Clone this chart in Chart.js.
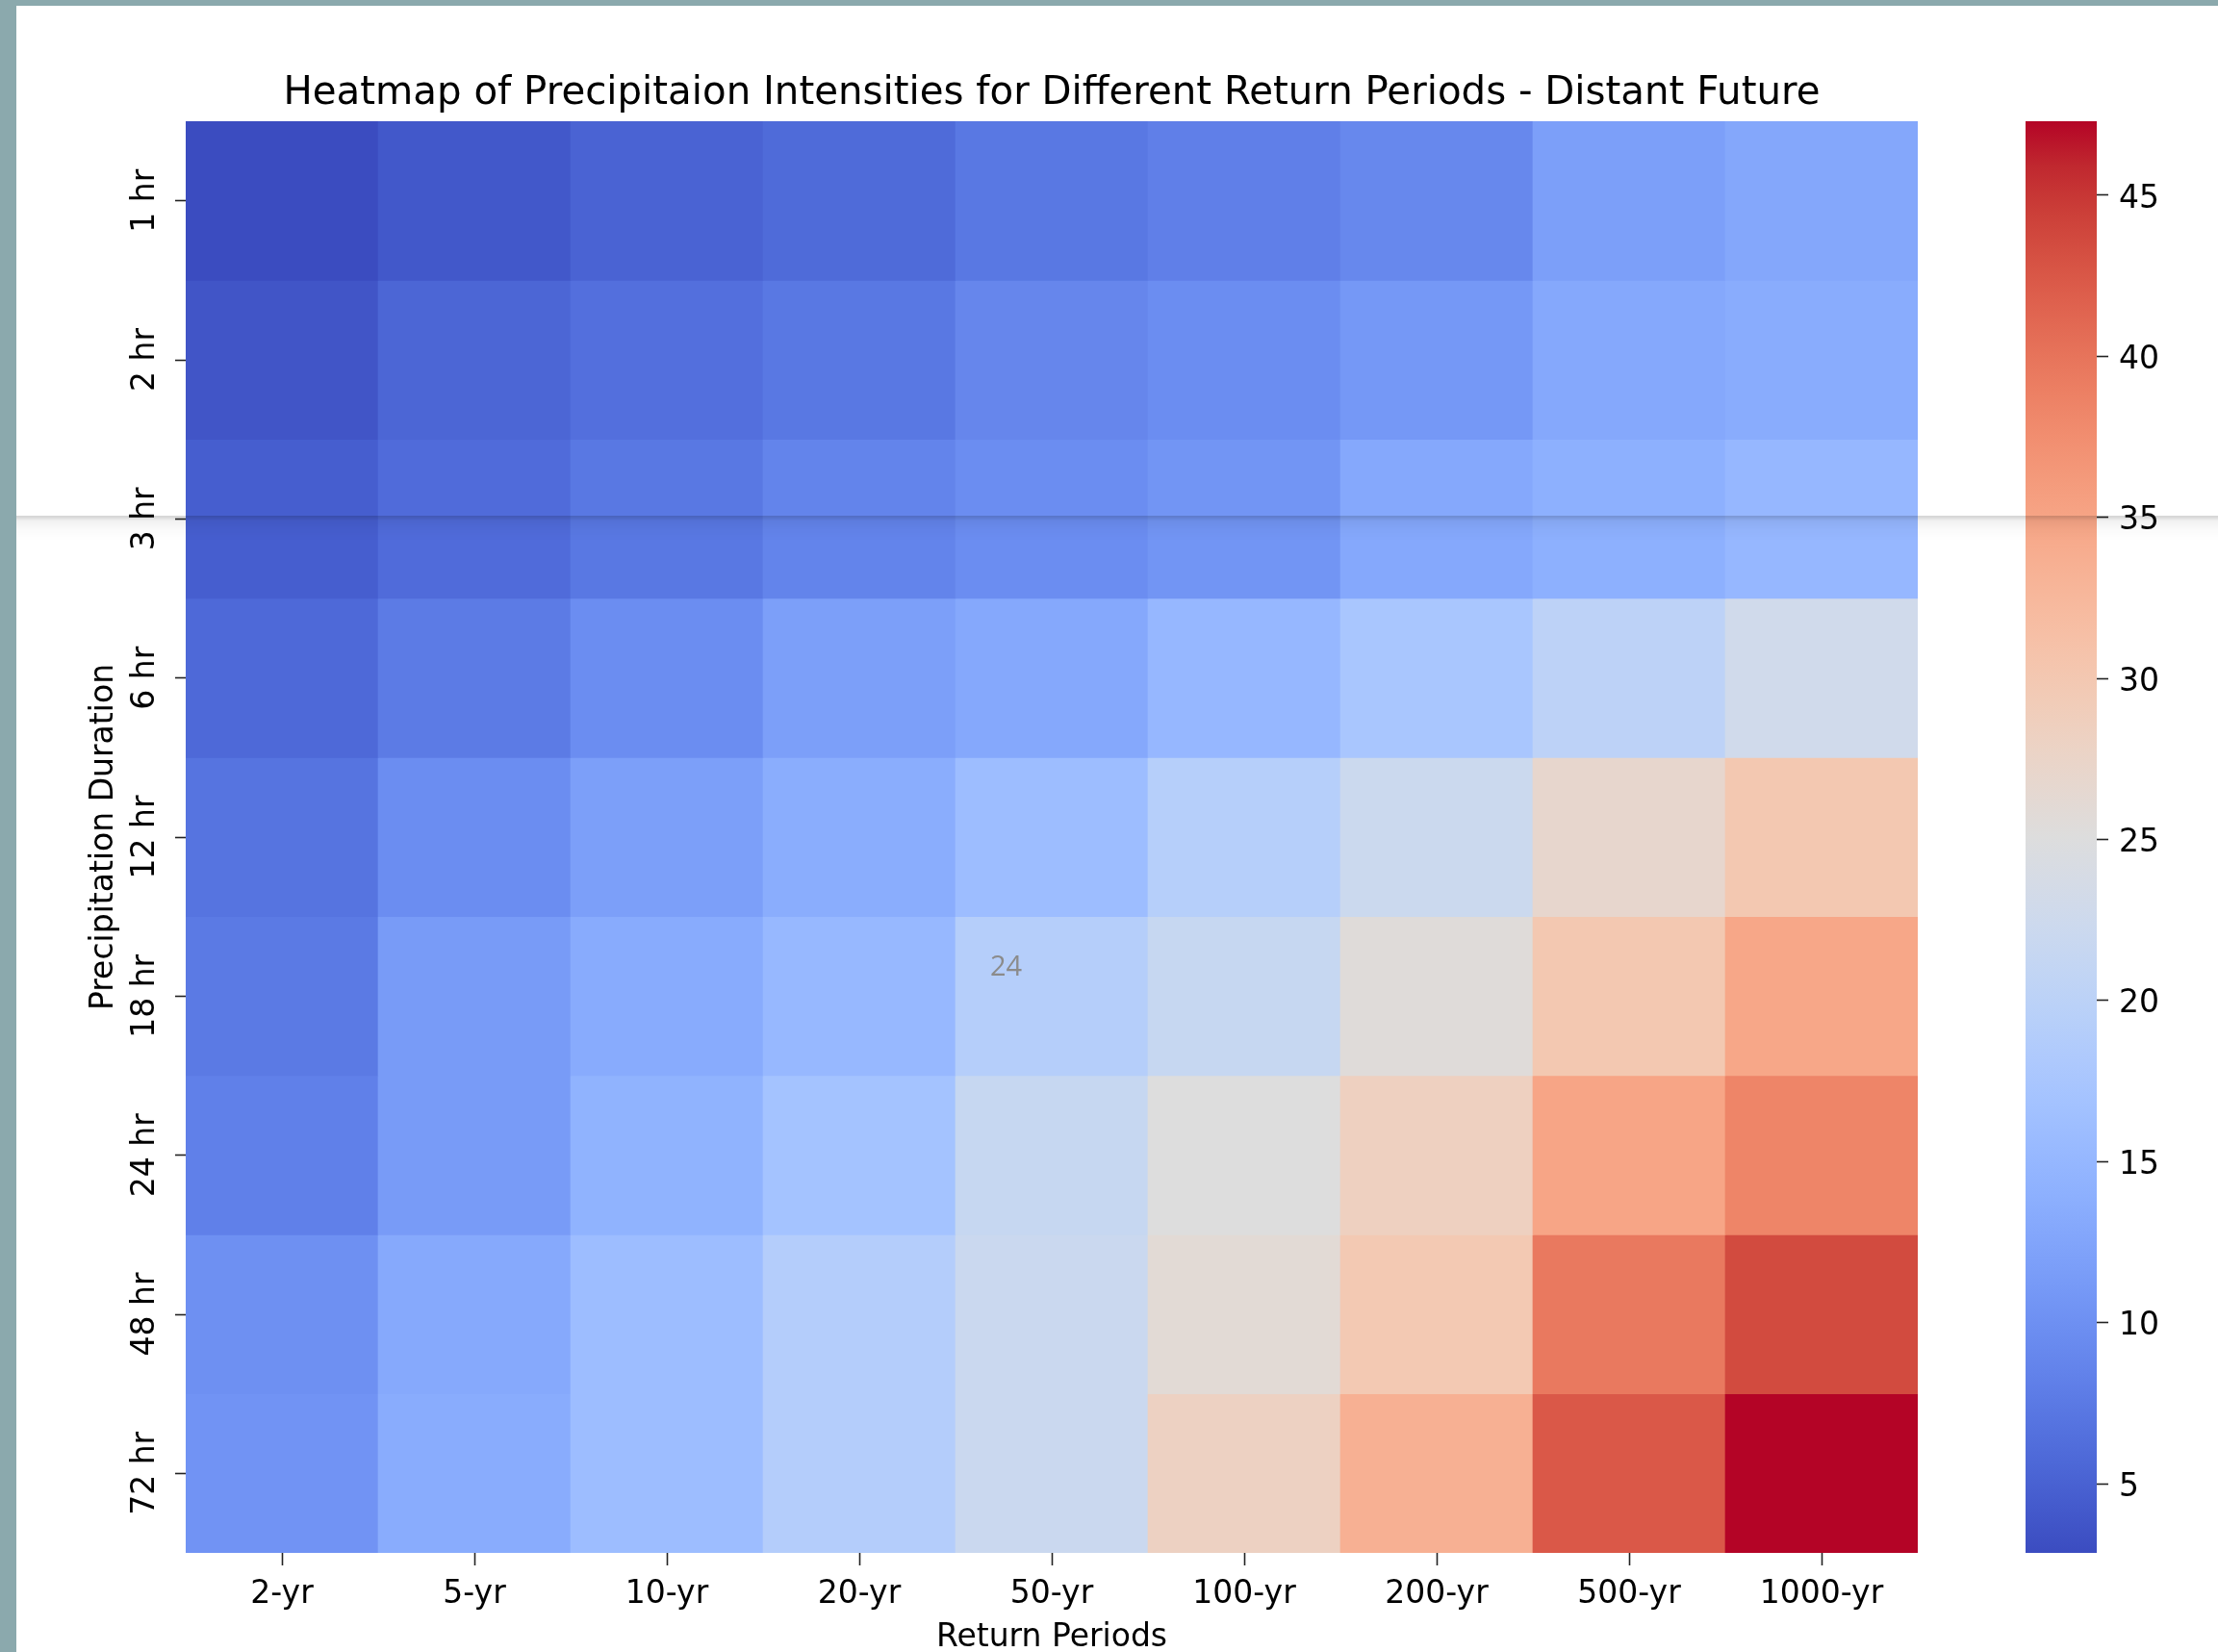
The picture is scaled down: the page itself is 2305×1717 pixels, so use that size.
<!DOCTYPE html>
<html>
<head>
<meta charset="utf-8">
<title>Heatmap - Distant Future</title>
<script src="https://cdn.jsdelivr.net/npm/chart.js@4.4.1/dist/chart.umd.min.js"></script>
<style>
  html, body { margin: 0; padding: 0; background: #fff; }
  body { width: 2305px; height: 1717px; position: relative; overflow: hidden; }
  #main { position: absolute; left: 0; top: 0; }
  #bar { position: absolute; left: 2105px; top: 0; }
  #edgeLeft { position: absolute; left: 0; top: 0; width: 17px; height: 1717px; background: #8ba9ad; }
  #edgeTop { position: absolute; left: 0; top: 0; width: 2305px; height: 6px; background: #8ba9ad; }
  #note { position: absolute; left: 1029px; top: 988px; font: 29px "Open Sans"; line-height: 1; color: #8b8b8b; }
  #shade {
    position: absolute; left: 17px; top: 536px; width: 2288px; height: 26px;
    background: linear-gradient(to bottom, rgba(0,0,0,0.17) 0px, rgba(0,0,0,0.14) 2px,
      rgba(0,0,0,0.06) 5px, rgba(0,0,0,0.02) 14px, rgba(0,0,0,0) 26px);
  }
</style>
</head>
<body>
<canvas id="main" width="2105" height="1717"></canvas>
<canvas id="bar" width="200" height="1717"></canvas>
<div id="note">24</div>
<div id="shade"></div>
<div id="edgeLeft"></div>
<div id="edgeTop"></div>
<script>
// categories
const periods = ['2-yr', '5-yr', '10-yr', '20-yr', '50-yr', '100-yr', '200-yr', '500-yr', '1000-yr'];
const durations = ['1 hr', '2 hr', '3 hr', '6 hr', '12 hr', '18 hr', '24 hr', '48 hr', '72 hr'];

// intensities, one array per duration
const hr1  = [2.85, 4.0, 5.1, 5.9, 7.3, 8.1, 9.1, 11.8, 12.8];
const hr2  = [3.7, 5.4, 6.4, 7.3, 8.9, 9.7, 10.9, 12.9, 13.5];
const hr3  = [4.6, 6.0, 7.3, 8.6, 9.7, 10.6, 12.9, 14.0, 15.1];
const hr6  = [5.7, 7.7, 9.7, 11.8, 12.9, 15.1, 17.5, 20.2, 22.9];
const hr12 = [6.9, 9.7, 11.8, 13.6, 16.0, 19.3, 22.2, 26.9, 30.0];
const hr18 = [7.5, 11.3, 13.3, 15.2, 19.1, 21.5, 25.5, 30.0, 34.7];
const hr24 = [8.2, 11.3, 14.4, 16.9, 21.5, 25.1, 28.4, 34.9, 38.4];
const hr48 = [10.0, 13.1, 16.0, 18.9, 22.0, 26.0, 29.8, 39.5, 43.5];
const hr72 = [10.4, 13.4, 16.0, 18.9, 22.0, 28.2, 33.5, 42.4, 47.3];

// colorbar tick labels
const cbTicks = [5, 10, 15, 20, 25, 30, 35, 40, 45];

const rows = [hr1, hr2, hr3, hr6, hr12, hr18, hr24, hr48, hr72];
const allVals = rows.flat();
const vmin = Math.min(...allVals);
const vmax = Math.max(...allVals);

// coolwarm colormap
const cw = [
  [59,76,192],[68,90,204],[77,104,215],[87,117,225],[98,130,234],[108,142,241],
  [119,154,247],[130,165,251],[141,176,254],[152,185,255],[163,194,255],[174,201,253],
  [184,208,249],[194,213,244],[204,217,238],[213,219,230],[221,221,221],[229,216,209],
  [236,211,197],[241,204,184],[245,196,172],[247,187,160],[247,177,148],[247,166,135],
  [244,154,123],[241,141,111],[236,127,99],[229,112,88],[222,96,77],[213,80,66],
  [203,62,56],[192,40,47],[180,4,38]
];
function coolwarm(t) {
  t = Math.max(0, Math.min(1, t));
  const p = t * (cw.length - 1);
  const i = Math.min(Math.floor(p), cw.length - 2);
  const f = p - i;
  const c = [0, 1, 2].map(k => Math.round(cw[i][k] + (cw[i + 1][k] - cw[i][k]) * f));
  return 'rgb(' + c.join(',') + ')';
}

const font = (size, lh) => ({ family: 'DejaVu Sans', size: size, weight: 'normal', lineHeight: lh || 1.2 });

const heat = new Chart(document.getElementById('main'), {
  type: 'bar',
  data: {
    labels: periods,
    datasets: rows.map((vals, r) => ({
      label: durations[r],
      data: vals.map(() => [r - 0.5, r + 0.5]),
      backgroundColor: vals.map(v => coolwarm((v - vmin) / (vmax - vmin))),
      borderWidth: 0,
      barPercentage: 1,
      categoryPercentage: 1,
      grouped: false
    }))
  },
  options: {
    responsive: false,
    animation: false,
    layout: { padding: { left: 0, right: 112, top: 74, bottom: 0 } },
    plugins: {
      legend: { display: false },
      tooltip: { enabled: false },
      title: {
        display: true,
        fullSize: false,
        text: 'Heatmap of Precipitaion Intensities for Different Return Periods - Distant Future',
        color: '#000',
        font: { family: 'DejaVu Sans', size: 40.3, weight: 'normal', lineHeight: 48 / 40.3 },
        padding: { top: 0, bottom: 4 }
      }
    },
    scales: {
      x: {
        type: 'category',
        offset: true,
        grid: { offset: false, drawOnChartArea: false, tickLength: 13, tickWidth: 1.6, tickColor: '#222' },
        border: { display: false },
        ticks: { color: '#000', font: font(33), padding: 11, maxRotation: 0, autoSkip: false },
        title: { display: true, text: 'Return Periods', color: '#000', font: font(33, 0.9), padding: { top: 0, bottom: 0 } },
        afterFit: s => { s.height = 103; }
      },
      y: {
        type: 'linear',
        reverse: true,
        min: -0.5,
        max: 8.5,
        afterBuildTicks: s => { s.ticks = durations.map((d, i) => ({ value: i })); },
        grid: { drawOnChartArea: false, tickLength: 11, tickWidth: 1.6, tickColor: '#222' },
        border: { display: false },
        ticks: {
          callback: v => durations[v],
          minRotation: 90, maxRotation: 90,
          crossAlign: 'center',
          padding: -13,
          color: '#000',
          font: font(33)
        },
        title: { display: true, text: 'Precipitation Duration', color: '#000', font: font(33), padding: { top: 89, bottom: 0 } },
        afterFit: s => { s.width = 193; }
      }
    }
  }
});

// colorbar
function barGradient(chart) {
  const area = chart.chartArea;
  const y = chart.scales.y;
  if (!area || !y) return coolwarm(0.5);
  const g = chart.ctx.createLinearGradient(0, y.getPixelForValue(vmin), 0, y.getPixelForValue(vmax));
  cw.forEach((c, i) => g.addColorStop(i / (cw.length - 1), 'rgb(' + c.join(',') + ')'));
  return g;
}

const colorbar = new Chart(document.getElementById('bar'), {
  type: 'bar',
  data: {
    labels: [''],
    datasets: [{
      data: [[vmin, vmax]],
      backgroundColor: ctx => barGradient(ctx.chart),
      borderWidth: 0,
      barPercentage: 1,
      categoryPercentage: 1
    }]
  },
  options: {
    responsive: false,
    animation: false,
    layout: { padding: { top: 126, bottom: 103, left: 0, right: 0 } },
    plugins: { legend: { display: false }, tooltip: { enabled: false } },
    scales: {
      x: { display: false },
      y: {
        position: 'right',
        min: vmin,
        max: vmax,
        afterBuildTicks: s => { s.ticks = cbTicks.map(v => ({ value: v })); },
        afterFit: s => { s.width = 126; },
        grid: { drawOnChartArea: false, tickLength: 12, tickWidth: 1.6, tickColor: '#222' },
        border: { display: false },
        ticks: { padding: 11, labelOffset: 4, color: '#000', font: font(33) }
      }
    }
  }
});
</script>
</body>
</html>
